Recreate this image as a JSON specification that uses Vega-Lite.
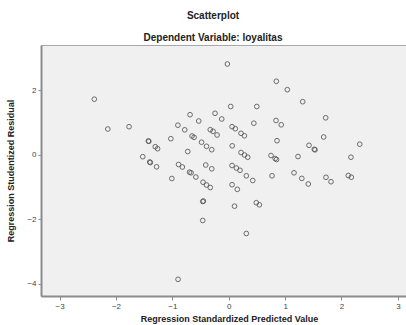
{
  "$schema": "https://vega.github.io/schema/vega-lite/v6.json",
  "autosize": {"type": "none"},
  "padding": {"left": 41, "top": 45, "right": -1, "bottom": 29},
  "width": 366,
  "height": 251,
  "background": "white",
  "title": {
    "text": "Scatterplot",
    "subtitle": "Dependent Variable: loyalitas",
    "font": "Liberation Sans",
    "fontSize": 10,
    "fontWeight": "bold",
    "color": "#222222",
    "subtitleFont": "Liberation Sans",
    "subtitleFontSize": 10,
    "subtitleFontWeight": "bold",
    "subtitleColor": "#222222",
    "subtitlePadding": 12,
    "offset": 2,
    "dx": -11
  },
  "config": {
    "view": {"fill": "#f0f0f0", "stroke": "#a8a8a8", "strokeWidth": 1},
    "axis": {
      "labelFont": "Liberation Sans",
      "labelFontSize": 8,
      "labelColor": "#444444",
      "titleFont": "Liberation Sans",
      "titleFontSize": 9,
      "titleFontWeight": "bold",
      "titleColor": "#222222",
      "domainColor": "#8c8c8c",
      "domainWidth": 2,
      "tickColor": "#8c8c8c",
      "grid": false
    }
  },
  "data": {
    "values": [
      {"pred": -2.385, "resid": 1.724},
      {"pred": -2.145, "resid": 0.798},
      {"pred": -1.768, "resid": 0.870},
      {"pred": -1.426, "resid": 0.425},
      {"pred": -1.417, "resid": 0.416},
      {"pred": -1.303, "resid": 0.248},
      {"pred": -1.262, "resid": 0.186},
      {"pred": -1.525, "resid": -0.062},
      {"pred": -1.401, "resid": -0.227},
      {"pred": -1.390, "resid": -0.245},
      {"pred": -1.280, "resid": -0.376},
      {"pred": -1.027, "resid": 0.497},
      {"pred": -1.009, "resid": -0.739},
      {"pred": -0.902, "resid": 0.916},
      {"pred": -0.780, "resid": 0.773},
      {"pred": -0.890, "resid": -0.304},
      {"pred": -0.823, "resid": -0.382},
      {"pred": -0.686, "resid": 1.242},
      {"pred": -0.532, "resid": 1.047},
      {"pred": -0.727, "resid": 0.099},
      {"pred": -0.651, "resid": 0.581},
      {"pred": -0.615, "resid": 0.540},
      {"pred": -0.482, "resid": 0.388},
      {"pred": -0.394, "resid": 0.261},
      {"pred": -0.301, "resid": 0.155},
      {"pred": -0.328, "resid": 0.776},
      {"pred": -0.278, "resid": 0.727},
      {"pred": -0.207, "resid": 0.612},
      {"pred": -0.243, "resid": 1.286},
      {"pred": -0.124, "resid": 1.109},
      {"pred": -0.408, "resid": -0.320},
      {"pred": -0.301, "resid": -0.438},
      {"pred": -0.695, "resid": -0.543},
      {"pred": -0.668, "resid": -0.562},
      {"pred": -0.583, "resid": -0.693},
      {"pred": -0.456, "resid": -0.854},
      {"pred": -0.394, "resid": -0.941},
      {"pred": -0.328, "resid": -1.019},
      {"pred": -0.461, "resid": -1.453},
      {"pred": -0.450, "resid": -1.438},
      {"pred": -0.461, "resid": -2.043},
      {"pred": -0.899, "resid": -3.870},
      {"pred": -0.025, "resid": 2.817},
      {"pred": 0.035, "resid": 1.497},
      {"pred": 0.059, "resid": 0.870},
      {"pred": 0.117, "resid": 0.807},
      {"pred": 0.218, "resid": 0.665},
      {"pred": 0.277, "resid": 0.587},
      {"pred": 0.062, "resid": 0.276},
      {"pred": 0.218, "resid": 0.068},
      {"pred": 0.280, "resid": -0.009},
      {"pred": 0.337, "resid": -0.078},
      {"pred": 0.059, "resid": -0.335},
      {"pred": 0.135, "resid": -0.413},
      {"pred": 0.200, "resid": -0.484},
      {"pred": 0.312, "resid": -0.655},
      {"pred": 0.426, "resid": -0.801},
      {"pred": 0.059, "resid": -0.932},
      {"pred": 0.152, "resid": -1.075},
      {"pred": 0.103, "resid": -1.599},
      {"pred": 0.489, "resid": -1.491},
      {"pred": 0.543, "resid": -1.556},
      {"pred": 0.312, "resid": -2.447},
      {"pred": 0.844, "resid": 2.280},
      {"pred": 1.039, "resid": 2.019},
      {"pred": 1.312, "resid": 1.646},
      {"pred": 0.498, "resid": 1.497},
      {"pred": 0.445, "resid": 0.978},
      {"pred": 0.839, "resid": 1.062},
      {"pred": 0.931, "resid": 0.929},
      {"pred": 1.720, "resid": 1.146},
      {"pred": 1.684, "resid": 0.550},
      {"pred": 0.856, "resid": 0.435},
      {"pred": 1.424, "resid": 0.292},
      {"pred": 1.518, "resid": 0.168},
      {"pred": 1.530, "resid": 0.152},
      {"pred": 2.324, "resid": 0.326},
      {"pred": 2.168, "resid": -0.078},
      {"pred": 1.229, "resid": -0.056},
      {"pred": 0.750, "resid": -0.025},
      {"pred": 0.824, "resid": -0.121},
      {"pred": 0.848, "resid": -0.149},
      {"pred": 0.768, "resid": -0.655},
      {"pred": 1.158, "resid": -0.562},
      {"pred": 1.296, "resid": -0.736},
      {"pred": 1.411, "resid": -0.910},
      {"pred": 1.725, "resid": -0.702},
      {"pred": 1.814, "resid": -0.839},
      {"pred": 2.121, "resid": -0.646},
      {"pred": 2.174, "resid": -0.699}
    ]
  },
  "mark": {"type": "point", "shape": "circle", "filled": false, "size": 22, "strokeWidth": 1, "color": "#555555", "opacity": 0.85},
  "encoding": {
    "x": {
      "field": "pred",
      "type": "quantitative",
      "scale": {"domain": [-3.33, 3.162], "nice": false, "zero": false},
      "axis": {"values": [-3, -2, -1, 0, 1, 2, 3], "format": "d", "tickSize": 4, "labelPadding": 2, "title": "Regression Standardized Predicted Value", "titlePadding": 4, "titleX": 188}
    },
    "y": {
      "field": "resid",
      "type": "quantitative",
      "scale": {"domain": [-4.388, 3.407], "nice": false, "zero": false},
      "axis": {"values": [-4, -2, 0, 2], "format": "d", "tickSize": 3, "labelPadding": 2, "title": "Regression Studentized Residual", "titlePadding": 11}
    }
  }
}
